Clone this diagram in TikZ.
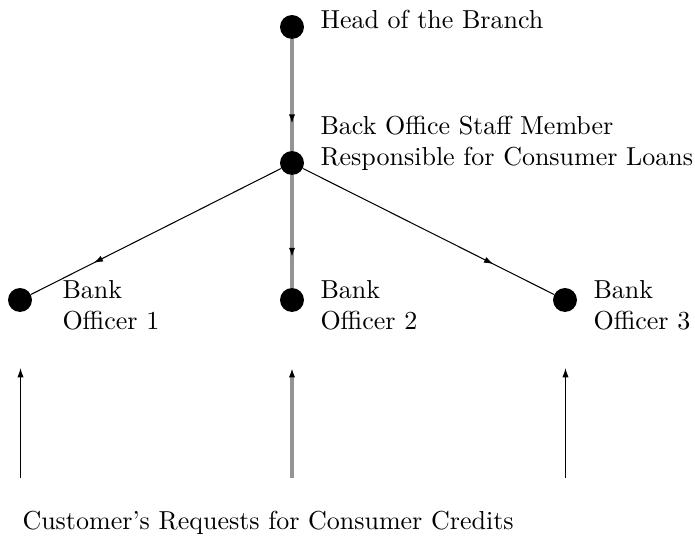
\documentclass[tikz,border=0pt]{standalone}
\usetikzlibrary{arrows.meta,decorations.markings}

\tikzset{
  dot/.style={circle,fill=black,minimum size=9.2pt,inner sep=0pt},
  lbl/.style={anchor=base west,align=left,inner sep=0pt},
  tip/.style={-{Latex[length=3.6pt,width=2.4pt,color=black]}},
  midarrow/.style={postaction={decorate},decoration={markings,
      mark=at position #1 with {\arrow[black]{Latex[length=3.6pt,width=2.4pt]}}}},
  grayline/.style={draw=black!42,line width=1.3pt},
}

\begin{document}
\begin{tikzpicture}[x=0.3846pt,y=-0.3846pt]

  % fix the page size
  \useasboundingbox (0,0) rectangle (695,536);

  % the people
  \node[dot] (head) at (292,27) {};
  \node[dot] (back) at (292,163) {};
  \foreach \i/\x in {1/20,2/292,3/565}
    \node[dot] (off\i) at (\x,300) {};

  % their names
  \node[lbl] at (320,29) {Head of the Branch};
  \node[lbl,anchor=south west] at (320,171) {Back Office Staff Member\\Responsible for Consumer Loans};
  \node[lbl] at (62,330) {Bank\\Officer 1};
  \node[lbl] at (320,330) {Bank\\Officer 2};
  \node[lbl] at (593,330) {Bank\\Officer 3};

  % who passes the request on to whom
  \draw[grayline,midarrow=0.76] (head) -- (back);
  \draw[grayline,midarrow=0.73] (back) -- (off2);
  \draw[midarrow=0.75] (back) -- (off1);
  \draw[midarrow=0.76] (back) -- (off3);

  % requests coming in from below
  \foreach \i/\x in {1/20.5,2/292,3/565.5} {
    \coordinate (in\i) at (\x,478);
    \coordinate (up\i) at (\x,368);
  }
  \draw[tip] (in1) -- (up1);
  \draw[tip,grayline] (in2) -- (up2);
  \draw[tip] (in3) -- (up3);

  \node[lbl] at (22,530) {Customer's Requests for Consumer Credits};

\end{tikzpicture}
\end{document}
